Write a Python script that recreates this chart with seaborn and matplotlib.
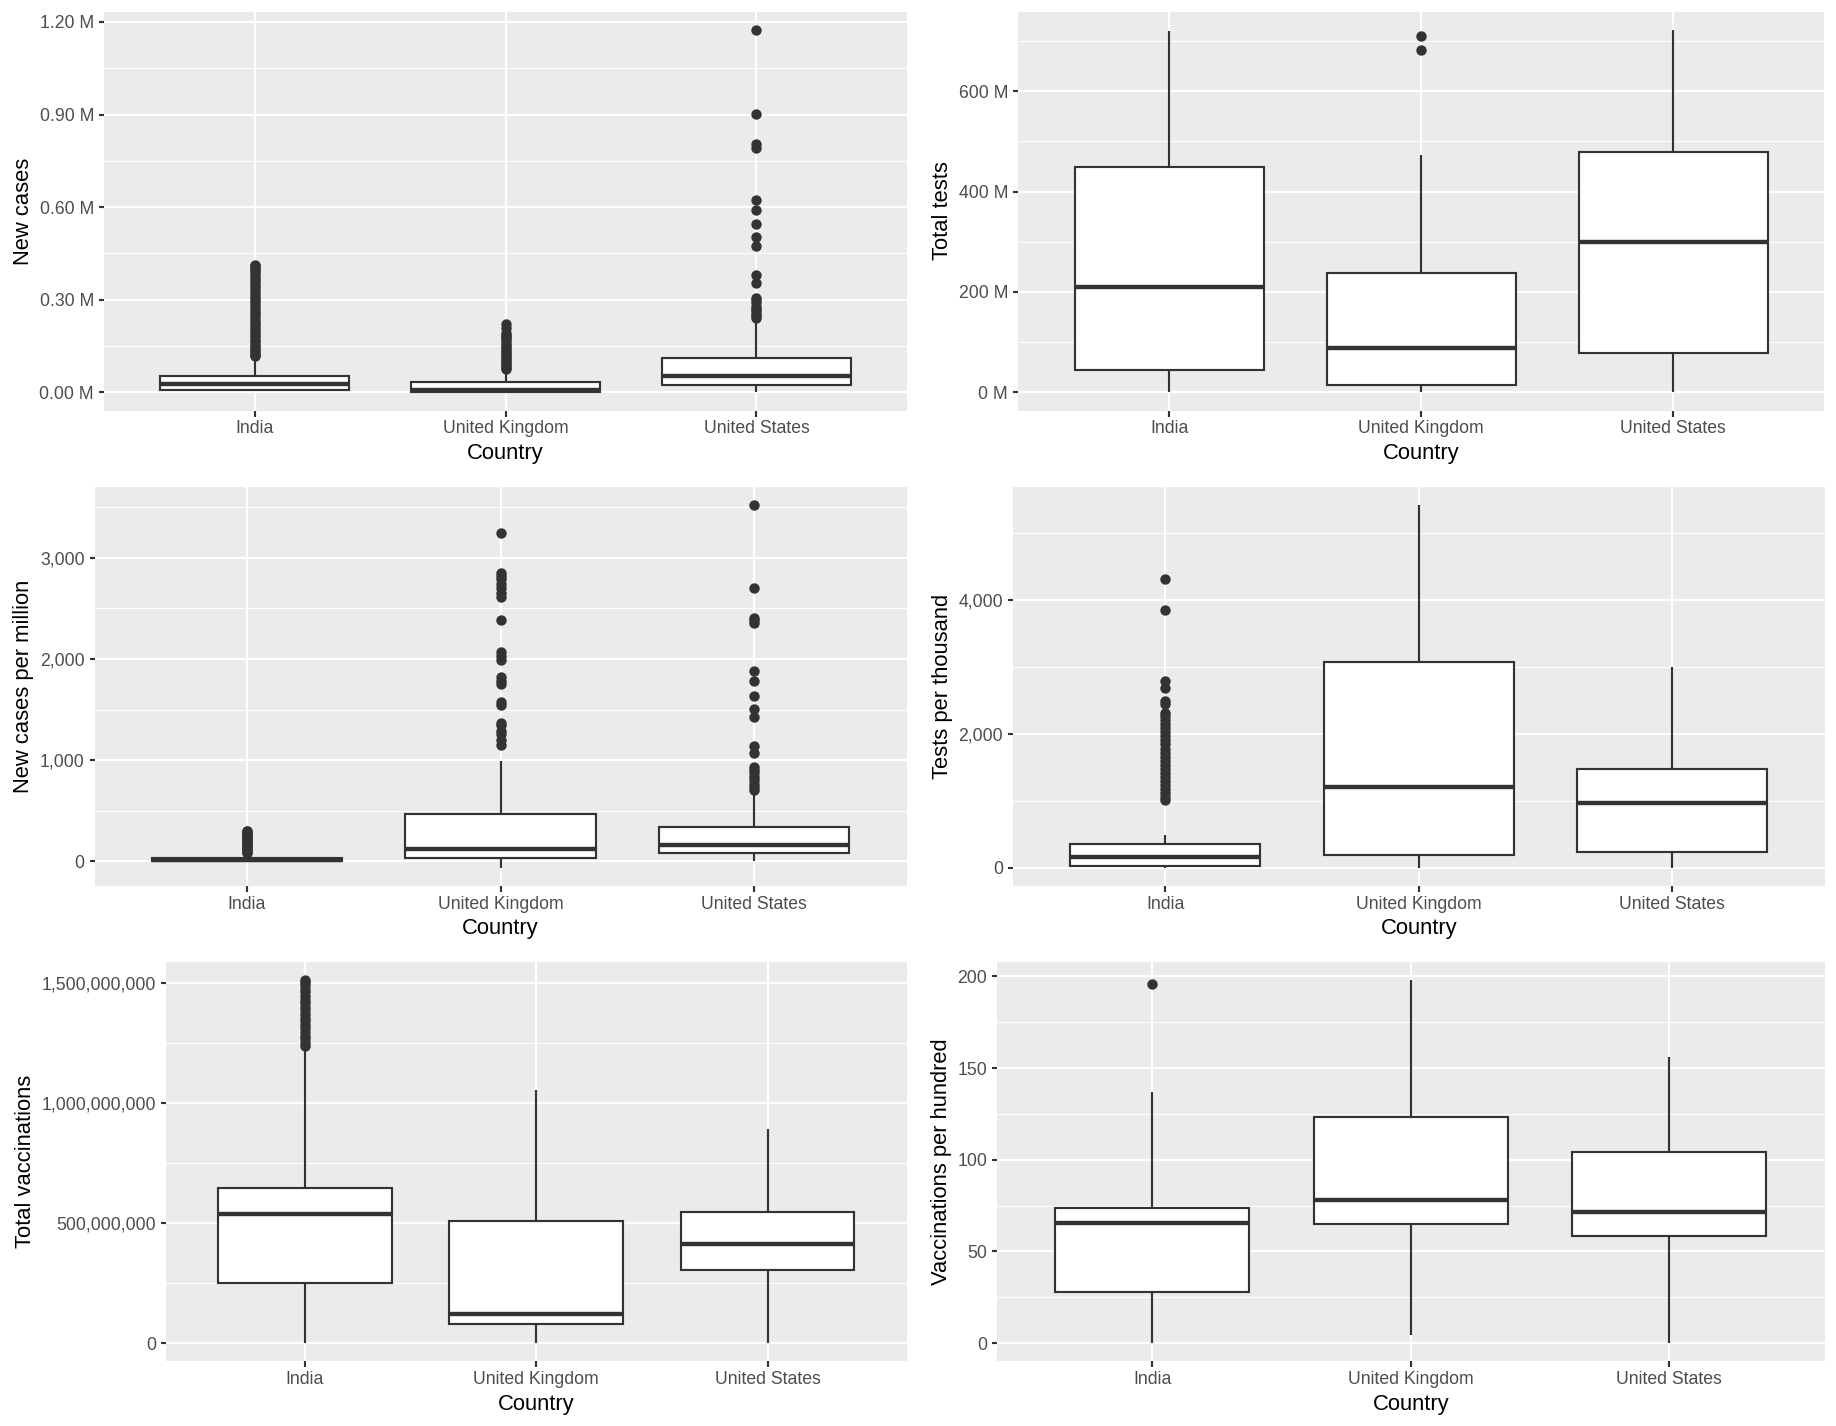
import numpy as np
import pandas as pd
import matplotlib
matplotlib.use("Agg")
import matplotlib.pyplot as plt
from matplotlib.ticker import FuncFormatter, MultipleLocator
import seaborn as sns

countries = ["India", "United Kingdom", "United States"]

# Five-number summaries: [lower whisker, Q1, median, Q3, upper whisker]
# New cases (millions)
new_cases_india = [0.003, 0.0065, 0.027, 0.054, 0.106]
new_cases_uk = [0.0, 0.0, 0.008, 0.0325, 0.072]
new_cases_us = [0.0, 0.025, 0.054, 0.111, 0.232]
new_cases_out_india = [0.117, 0.122, 0.128, 0.134, 0.141, 0.148, 0.155, 0.163, 0.170, 0.178,
                       0.186, 0.195, 0.203, 0.212, 0.220, 0.229, 0.238, 0.247, 0.256, 0.265,
                       0.274, 0.283, 0.292, 0.301, 0.310, 0.319, 0.328, 0.337, 0.346, 0.355,
                       0.364, 0.372, 0.381, 0.389, 0.397, 0.403, 0.409, 0.414]
new_cases_out_uk = [0.075, 0.080, 0.086, 0.092, 0.098, 0.104, 0.110, 0.117, 0.123, 0.130,
                    0.137, 0.143, 0.150, 0.158, 0.165, 0.172, 0.180, 0.187, 0.193, 0.209, 0.221]
new_cases_out_us = [1.175, 0.901, 0.805, 0.790, 0.623, 0.592, 0.546, 0.502, 0.474, 0.380,
                    0.354, 0.307, 0.298, 0.288, 0.278, 0.270, 0.262, 0.254, 0.247, 0.240]

# Total tests (millions)
total_tests_india = [0.0, 44.7, 209.5, 448.4, 720.7]
total_tests_uk = [1.0, 14.7, 88.0, 237.0, 473.8]
total_tests_us = [0.0, 79.4, 300.3, 478.5, 722.7]
total_tests_out_uk = [710.0, 682.0]

# New cases per million
cpm_india = [0.0, 5.0, 19.0, 39.0, 78.0]
cpm_uk = [-63.0, 33.0, 125.0, 472.0, 994.0]
cpm_us = [0.0, 83.0, 165.0, 340.0, 675.0]
cpm_out_india = [85, 98, 110, 122, 135, 148, 160, 172, 185, 198, 210, 222, 235, 248,
                 260, 272, 285, 296, 305]
cpm_out_uk = [3241, 2851, 2820, 2785, 2735, 2700, 2653, 2613, 2382, 2068, 2025, 1985,
              1817, 1784, 1751, 1579, 1546, 1371, 1348, 1288, 1259, 1199, 1150]
cpm_out_us = [3518, 2702, 2405, 2380, 2355, 1876, 1777, 1635, 1503, 1424, 1140, 1067,
              935, 902, 869, 836, 800, 765, 735, 708]

# Tests per thousand
tpt_india = [0.0, 35.0, 160.0, 360.0, 485.0]
tpt_uk = [0.0, 195.0, 1200.0, 3070.0, 5410.0]
tpt_us = [0.0, 230.0, 960.0, 1475.0, 3000.0]
tpt_out_india = [1010, 1060, 1120, 1180, 1240, 1300, 1360, 1420, 1480, 1540, 1600, 1660,
                 1720, 1780, 1840, 1900, 1960, 2020, 2080, 2140, 2200, 2260, 2310, 2440,
                 2490, 2690, 2790, 3850, 4310]

# Total vaccinations
tv_india = [0.0, 250e6, 537.5e6, 646e6, 1222e6]
tv_uk = [0.0, 79e6, 121e6, 507e6, 1055e6]
tv_us = [0.0, 305.5e6, 412.5e6, 544e6, 891.7e6]
tv_out_india = [1235e6, 1250e6, 1265e6, 1280e6, 1295e6, 1310e6, 1325e6, 1340e6, 1355e6,
                1370e6, 1385e6, 1400e6, 1415e6, 1430e6, 1445e6, 1460e6, 1475e6, 1490e6,
                1502e6, 1510e6]

# Vaccinations per hundred
vph_india = [0.0, 28.1, 65.3, 73.7, 136.7]
vph_uk = [4.2, 65.1, 77.9, 123.4, 197.8]
vph_us = [0.0, 58.7, 71.7, 104.5, 155.9]
vph_out_india = [195.6]

sns.set_theme(style="darkgrid")
plt.rcParams["font.family"] = ["Liberation Sans", "DejaVu Sans"]

W, H, DPI = 1836, 1426, 144
fig = plt.figure(figsize=(W / DPI, H / DPI), dpi=DPI)
fig.patch.set_facecolor("white")

row_tops = [11.5, 487.0, 962.3]
panel_h = 399.0
col_spans = {
    (0, 0): (104, 907), (0, 1): (1018, 1824.5),
    (1, 0): (94.5, 906.5), (1, 1): (1013, 1824.5),
    (2, 0): (166, 906.5), (2, 1): (997, 1824.5),
}

GRID = "white"
LW = 1.07


def make_ax(r, c):
    x0, x1 = col_spans[(r, c)]
    top = row_tops[r]
    return fig.add_axes([x0 / W, 1 - (top + panel_h) / H, (x1 - x0) / W, panel_h / H])


def draw(ax, stats, outliers, ylabel, step, fmt):
    box_df = pd.DataFrame([(c, v) for c, s in zip(countries, stats) for v in s],
                          columns=["Country", "value"])
    out_df = pd.DataFrame([(c, v) for c, o in zip(countries, outliers) for v in o],
                          columns=["Country", "value"])
    sns.boxplot(data=box_df, x="Country", y="value", order=countries, ax=ax,
                whis=(0, 100), width=0.75, color="white", saturation=1,
                linecolor="#333333", linewidth=LW, showfliers=False,
                medianprops=dict(linewidth=2.2, color="#333333"),
                capprops=dict(linewidth=0))
    if len(out_df):
        sns.stripplot(data=out_df, x="Country", y="value", order=countries, ax=ax,
                      jitter=False, color="#333333", size=5.2, linewidth=0, zorder=4)
    allv = [v for s in stats for v in s] + [v for o in outliers for v in o]
    lo, hi = min(allv), max(allv)
    pad = 0.05 * (hi - lo)
    ax.set_ylim(lo - pad, hi + pad)
    ax.set_xlim(-0.6, 2.6)
    ax.set_facecolor("#EBEBEB")
    ax.set_axisbelow(True)
    for s in ax.spines.values():
        s.set_visible(False)
    ax.yaxis.set_major_locator(MultipleLocator(step))
    ax.yaxis.set_minor_locator(MultipleLocator(step / 2))
    ax.yaxis.set_major_formatter(FuncFormatter(fmt))
    ax.grid(False)
    ax.grid(True, axis="y", which="major", color=GRID, linewidth=LW)
    ax.grid(True, axis="y", which="minor", color=GRID, linewidth=LW / 2)
    ax.grid(True, axis="x", which="major", color=GRID, linewidth=LW)
    ax.tick_params(axis="both", which="major", length=2.75, width=LW, color="#333333",
                   labelcolor="#4D4D4D", labelsize=8.8, pad=2.2,
                   bottom=True, left=True)
    ax.tick_params(axis="y", which="minor", length=0, left=False)
    ax.set_xlabel("Country", fontsize=11, color="black", labelpad=2.75)
    ax.set_ylabel(ylabel, fontsize=11, color="black", labelpad=2.75)


ax = make_ax(0, 0)
draw(ax, [new_cases_india, new_cases_uk, new_cases_us],
     [new_cases_out_india, new_cases_out_uk, new_cases_out_us],
     "New cases", 0.3, lambda v, _: f"{v:.2f} M")

ax = make_ax(0, 1)
draw(ax, [total_tests_india, total_tests_uk, total_tests_us],
     [[], total_tests_out_uk, []],
     "Total tests", 200, lambda v, _: f"{v:.0f} M")

ax = make_ax(1, 0)
draw(ax, [cpm_india, cpm_uk, cpm_us],
     [cpm_out_india, cpm_out_uk, cpm_out_us],
     "New cases per million", 1000, lambda v, _: f"{v:,.0f}")

ax = make_ax(1, 1)
draw(ax, [tpt_india, tpt_uk, tpt_us],
     [tpt_out_india, [], []],
     "Tests per thousand", 2000, lambda v, _: f"{v:,.0f}")

ax = make_ax(2, 0)
draw(ax, [tv_india, tv_uk, tv_us],
     [tv_out_india, [], []],
     "Total vaccinations", 500e6, lambda v, _: f"{v:,.0f}")

ax = make_ax(2, 1)
draw(ax, [vph_india, vph_uk, vph_us],
     [vph_out_india, [], []],
     "Vaccinations per hundred", 50, lambda v, _: f"{v:g}")

fig.savefig("out.png", dpi=DPI, facecolor="white")
